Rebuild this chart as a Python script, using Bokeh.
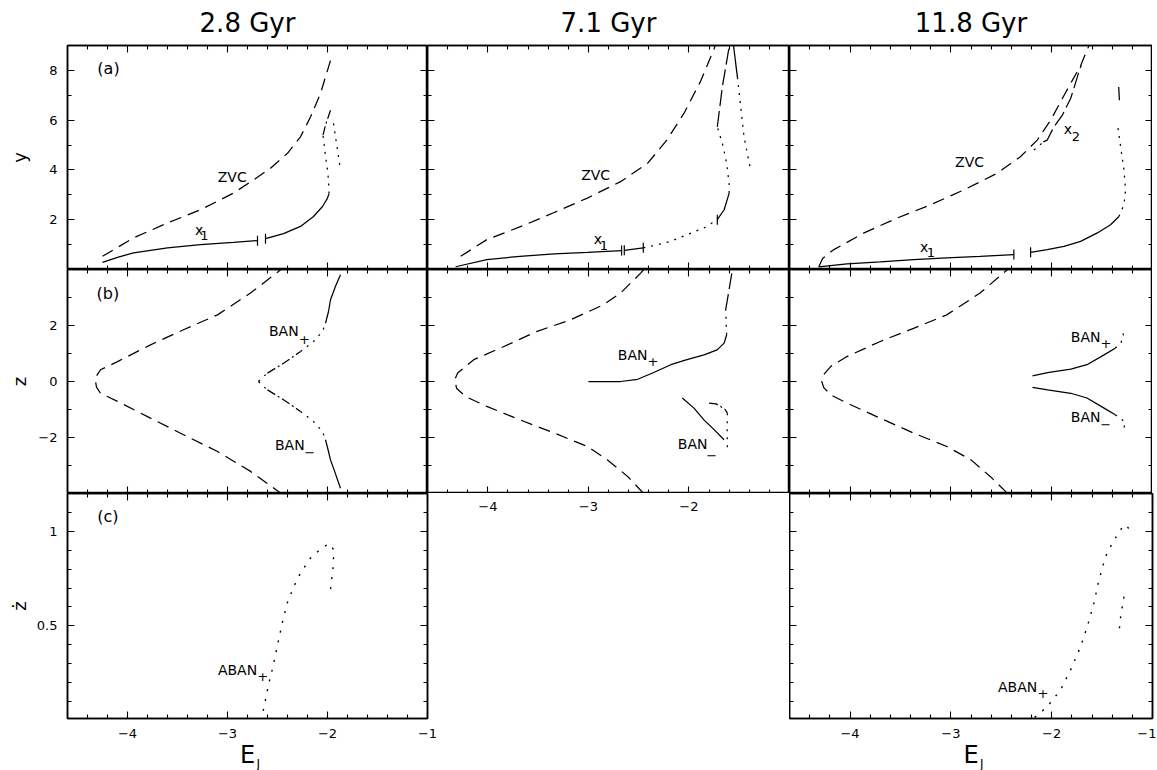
from math import pi
from bokeh.plotting import figure
from bokeh.models import Range1d, LinearAxis, FixedTicker, Title
from bokeh.layouts import row, column
from bokeh.embed import file_html
from bokeh.resources import INLINE
from bokeh.core.properties import value

FONT = "DejaVu Sans"

# ---------------- texts / ticks ----------------
COLUMN_TITLES = ["2.8 Gyr", "7.1 Gyr", "11.8 Gyr"]
ROW_LABELS = ["y", "z", "ż"]
X_LABEL, X_LABEL_SUB = "E", "J"

E_RANGE = (-4.6, -1.0)
E_MAJOR = [-4, -3, -2, -1]
E_MAJOR_LABELS = ["−4", "−3", "−2", "−1"]
E_MINOR = [-4.4, -4.2, -3.8, -3.6, -3.4, -3.2, -2.8, -2.6, -2.4, -2.2, -1.8, -1.6, -1.4, -1.2]

Y_RANGE = (0.0, 9.0)
Y_MAJOR = [2, 4, 6, 8]
Y_MAJOR_LABELS = ["2", "4", "6", "8"]
Y_MINOR = [1, 3, 5, 7]

Z_RANGE = (-4.0, 4.0)
Z_MAJOR = [-2, 0, 2]
Z_MAJOR_LABELS = ["−2", "0", "2"]
Z_MINOR = [-3, -1, 1, 3]

ZD_RANGE = (0.01, 1.2)
ZD_MAJOR = [0.5, 1.0]
ZD_MAJOR_LABELS = ["0.5", "1"]
ZD_MINOR = [0.1, 0.2, 0.3, 0.4, 0.6, 0.7, 0.8, 0.9, 1.1]

# ---------------- data: panel (a), 2.8 Gyr ----------------
A28_ZVC_E = [-4.25, -3.94, -3.60, -3.27, -2.94, -2.74, -2.57, -2.40, -2.27, -2.17, -2.07, -1.97]
A28_ZVC_Y = [0.53, 1.27, 1.87, 2.40, 3.07, 3.60, 4.07, 4.67, 5.33, 6.13, 7.07, 8.40]
A28_X1A_E = [-4.25, -4.10, -3.94, -3.60, -3.27, -2.94, -2.70]
A28_X1A_Y = [0.29, 0.49, 0.67, 0.87, 1.00, 1.09, 1.16]
A28_X1B_E = [-2.62, -2.44, -2.27, -2.14, -2.05, -2.00, -1.985]
A28_X1B_Y = [1.24, 1.44, 1.73, 2.13, 2.53, 2.87, 3.05]
A28_X1C_E = [-1.985, -1.99, -2.00, -2.02, -2.035, -2.045]
A28_X1C_Y = [3.05, 3.60, 4.00, 4.53, 5.07, 5.40]
A28_X1D_E = [-2.045, -2.02, -1.97]
A28_X1D_Y = [5.40, 5.80, 6.40]
A28_X1E_E = [-1.94, -1.905, -1.87]
A28_X1E_Y = [5.87, 4.93, 4.00]
A28_TICK_E = [-2.70, -2.62]
A28_TICK_Y = [1.16, 1.24]

# ---------------- data: panel (a), 7.1 Gyr ----------------
A71_ZVC_E = [-4.27, -4.01, -3.67, -3.34, -3.01, -2.68, -2.41, -2.22, -2.05, -1.88, -1.75, -1.73]
A71_ZVC_Y = [0.53, 1.20, 1.73, 2.29, 2.87, 3.53, 4.27, 5.20, 6.27, 7.60, 8.87, 9.10]
A71_X1A_E = [-4.32, -4.01, -3.68, -3.34, -3.01, -2.67]
A71_X1A_Y = [0.11, 0.40, 0.53, 0.63, 0.69, 0.76]
A71_X1B_E = [-2.643, -2.454]
A71_X1B_Y = [0.77, 0.87]
A71_X1C_E = [-2.454, -2.35, -2.18, -2.02, -1.85, -1.718]
A71_X1C_Y = [0.87, 0.96, 1.13, 1.40, 1.67, 2.00]
A71_X1D_E = [-1.718, -1.65, -1.60]
A71_X1D_Y = [2.00, 2.40, 3.07]
A71_X1E_E = [-1.60, -1.601, -1.625, -1.668, -1.718]
A71_X1E_Y = [3.07, 3.47, 4.27, 5.07, 5.73]
A71_X1F_E = [-1.718, -1.668, -1.601, -1.59]
A71_X1F_Y = [5.73, 7.33, 8.93, 9.20]
A71_X1G_E = [-1.56, -1.518]
A71_X1G_Y = [9.10, 7.73]
A71_X1H_E = [-1.518, -1.485, -1.452, -1.393]
A71_X1H_Y = [7.73, 6.53, 5.33, 4.13]
A71_TICK_E = [-2.670, -2.643, -2.454, -1.718]
A71_TICK_Y = [0.76, 0.77, 0.87, 2.00]

# ---------------- data: panel (a), 11.8 Gyr ----------------
A118_ZVC_E = [-4.31, -4.27, -4.16, -3.86, -3.53, -3.20, -2.87, -2.54, -2.31, -2.143, -2.01, -1.894, -1.795, -1.712, -1.63]
A118_ZVC_Y = [0.11, 0.45, 0.80, 1.47, 2.07, 2.60, 3.20, 3.87, 4.53, 5.20, 6.00, 6.87, 7.60, 8.20, 9.00]
A118_X2A_E = [-2.176, -2.127, -2.083]
A118_X2A_Y = [4.80, 4.96, 5.13]
A118_X2B_E = [-2.083, -2.044, -1.978, -1.894, -1.812, -1.786, -1.72, -1.706]
A118_X2B_Y = [5.13, 5.20, 5.73, 6.20, 6.87, 7.20, 8.07, 8.20]
A118_X1A_E = [-4.31, -4.03, -3.70, -3.37, -3.04, -2.71, -2.375]
A118_X1A_Y = [0.11, 0.23, 0.31, 0.40, 0.47, 0.53, 0.60]
A118_X1B_E = [-2.209, -2.044, -1.878, -1.713, -1.547, -1.416, -1.333]
A118_X1B_Y = [0.69, 0.80, 0.93, 1.13, 1.47, 1.80, 2.13]
A118_X1C_E = [-1.333, -1.283, -1.267, -1.283, -1.316, -1.349]
A118_X1C_Y = [2.13, 2.60, 3.20, 4.00, 4.93, 5.87]
A118_X1D_E = [-1.335, -1.328]
A118_X1D_Y = [7.33, 6.80]
A118_TICK_E = [-2.375, -2.209]
A118_TICK_Y = [0.60, 0.69]

# ---------------- data: panel (b), 2.8 Gyr ----------------
B28_ZVC_E = [-2.45, -2.49, -2.77, -3.10, -3.44, -3.77, -4.10, -4.27, -4.31, -4.32, -4.31, -4.27, -4.10, -3.77, -3.44, -3.10, -2.77, -2.49, -2.45]
B28_ZVC_Z = [-4.05, -3.93, -3.21, -2.50, -1.90, -1.31, -0.71, -0.42, -0.20, 0.00, 0.20, 0.42, 0.71, 1.31, 1.85, 2.38, 3.16, 3.93, 4.05]
B28_UPA_E = [-2.69, -2.66, -2.60]
B28_UPA_Z = [0.00, 0.12, 0.30]
B28_UPB_E = [-2.60, -2.44, -2.27]
B28_UPB_Z = [0.30, 0.65, 1.07]
B28_UPC_E = [-2.27, -2.14, -2.05, -2.02]
B28_UPC_Z = [1.07, 1.43, 1.79, 2.08]
B28_UPD_E = [-2.02, -1.99, -1.97, -1.92, -1.87]
B28_UPD_Z = [2.08, 2.50, 2.92, 3.40, 3.81]
B28_LOA_E = [-2.69, -2.66, -2.60]
B28_LOA_Z = [0.00, -0.12, -0.30]
B28_LOB_E = [-2.60, -2.44, -2.27]
B28_LOB_Z = [-0.30, -0.65, -1.07]
B28_LOC_E = [-2.27, -2.14, -2.05, -2.02]
B28_LOC_Z = [-1.07, -1.43, -1.79, -2.08]
B28_LOD_E = [-2.02, -1.99, -1.97, -1.92, -1.87]
B28_LOD_Z = [-2.08, -2.50, -2.80, -3.30, -3.81]

# ---------------- data: panel (b), 7.1 Gyr ----------------
B71_ZVC_E = [-2.45, -2.61, -2.81, -3.01, -3.34, -3.68, -4.01, -4.22, -4.31, -4.33, -4.30, -4.24, -4.14, -3.84, -3.51, -3.18, -2.85, -2.68, -2.48, -2.45]
B71_ZVC_Z = [-4.00, -3.39, -2.80, -2.32, -1.84, -1.37, -0.89, -0.54, -0.25, 0.06, 0.30, 0.48, 0.78, 1.25, 1.79, 2.20, 2.74, 3.16, 3.87, 4.00]
B71_UPA_E = [-3.00, -2.68, -2.51, -2.35, -2.18, -2.02, -1.85, -1.72, -1.65, -1.625]
B71_UPA_Z = [0.00, 0.00, 0.08, 0.32, 0.60, 0.78, 0.95, 1.13, 1.37, 1.67]
B71_UPB_E = [-1.625, -1.63, -1.635]
B71_UPB_Z = [1.67, 2.10, 2.56]
B71_UPC_E = [-1.635, -1.60, -1.568]
B71_UPC_Z = [2.56, 3.30, 3.99]
B71_LOA_E = [-2.066, -1.95, -1.851, -1.75, -1.651]
B71_LOA_Z = [-0.59, -0.95, -1.37, -1.72, -2.08]
B71_LOB_E = [-1.80, -1.73, -1.685, -1.64, -1.618]
B71_LOB_Z = [-0.77, -0.80, -0.89, -1.00, -1.13]
B71_LOC_E = [-1.618, -1.62, -1.618]
B71_LOC_Z = [-1.13, -1.70, -2.38]

# ---------------- data: panel (b), 11.8 Gyr ----------------
B118_ZVC_E = [-2.44, -2.61, -2.80, -3.04, -3.37, -3.70, -4.03, -4.19, -4.26, -4.28, -4.26, -4.19, -4.03, -3.70, -3.37, -3.04, -2.71, -2.44]
B118_ZVC_Z = [-3.99, -3.39, -2.80, -2.32, -1.84, -1.31, -0.77, -0.48, -0.22, 0.00, 0.25, 0.54, 0.89, 1.43, 1.90, 2.38, 3.16, 3.99]
B118_UPA_E = [-2.19, -2.04, -1.81, -1.65, -1.48, -1.37]
B118_UPA_Z = [0.20, 0.32, 0.44, 0.60, 0.95, 1.19]
B118_UPB_E = [-1.37, -1.316, -1.283, -1.30]
B118_UPB_Z = [1.19, 1.37, 1.61, 1.79]
B118_LOA_E = [-2.19, -2.04, -1.81, -1.65, -1.48, -1.37]
B118_LOA_Z = [-0.21, -0.30, -0.42, -0.59, -0.95, -1.19]
B118_LOB_E = [-1.37, -1.316, -1.267, -1.30]
B118_LOB_Z = [-1.19, -1.31, -1.49, -1.79]

# ---------------- data: panel (c) ----------------
C28_E = [-2.643, -2.62, -2.587, -2.553, -2.503, -2.453, -2.403, -2.337, -2.27, -2.17, -2.07, -1.987, -1.937, -1.943, -1.97]
C28_ZD = [0.051, 0.108, 0.196, 0.267, 0.39, 0.514, 0.62, 0.708, 0.779, 0.858, 0.906, 0.935, 0.903, 0.815, 0.691]
C118A_E = [-2.169, -2.044, -1.912, -1.812, -1.713, -1.647, -1.581, -1.531, -1.465, -1.398, -1.316, -1.267, -1.24, -1.25]
C118A_ZD = [0.016, 0.072, 0.161, 0.267, 0.39, 0.496, 0.62, 0.744, 0.867, 0.938, 1.009, 1.035, 1.018, 1.0]
C118B_E = [-1.283, -1.316, -1.333]
C118B_ZD = [0.655, 0.549, 0.461]

# ---------------- annotations ----------------
A28_TAG = (["(a)"], [-4.19], [8.08])
A28_TXT = (["ZVC", "x"], [-2.953, -3.283], [3.73, 1.57])
A28_SUB = (["1"], [-3.23], [1.36])
A71_TXT = (["ZVC", "x"], [-2.928, -2.905], [3.80, 1.23])
A71_SUB = (["1"], [-2.846], [0.96])
A118_TXT = (["ZVC", "x", "x"], [-2.814, -1.839, -3.264], [4.33, 5.64, 0.91])
A118_SUB = (["2", "1"], [-1.760, -3.198], [5.36, 0.67])
B28_TAG = (["(b)"], [-4.197], [3.16])
B28_TXT = (["BAN", "BAN"], [-2.437, -2.377], [1.79, -2.26])
B28_SUB = (["+", "−"], [-2.23, -2.177], [1.51, -2.54])
B71_TXT = (["BAN", "BAN"], [-2.56, -1.963], [0.95, -2.24])
B71_SUB = (["+", "−"], [-2.358, -1.774], [0.71, -2.65])
B118_TXT = (["BAN", "BAN"], [-1.663, -1.663], [1.58, -1.27])
B118_SUB = (["+", "−"], [-1.462, -1.465], [1.35, -1.55])
C28_TAG = (["(c)"], [-4.197], [1.076])
C28_TXT = (["ABAN"], [-2.90], [0.265])
C28_SUB = (["+"], [-2.647], [0.23])
C118_TXT = (["ABAN"], [-2.338], [0.177])
C118_SUB = (["+"], [-2.087], [0.14])

# ---------------- styling ----------------
FW = [360, 362, 363]
FH = [224, 224, 225]
LEFT_BORDER, TOP_BORDER, BOTTOM_BORDER = 67, 45, 51
DASHES = {"solid": "solid", "dash": "12 7", "dot": "2 6", "dashdot": "9 3 2 3", "longdash": "16 5"}
LW = 1.25


def style_axis(ax, show, labels_map=None, standoff=6):
    ax.axis_line_color = "black"
    ax.axis_line_width = 1.5
    ax.major_tick_line_color = "black"
    ax.major_tick_line_width = 1.1
    ax.minor_tick_line_color = "black"
    ax.minor_tick_line_width = 1.1
    ax.major_tick_in = 7
    ax.major_tick_out = 0
    ax.minor_tick_in = 4
    ax.minor_tick_out = 0
    ax.axis_label_text_color = "black"
    if show:
        ax.major_label_overrides = labels_map
        ax.major_label_text_font = FONT
        ax.major_label_text_font_size = "13px"
        ax.major_label_text_color = "black"
        ax.major_label_standoff = standoff
    else:
        ax.major_label_text_color = None


def make_panel(ci, ri, yrange, ymaj, ymaj_lab, ymin, ylabel=None, ylabel_standoff=0):
    left = LEFT_BORDER if ci == 0 else 0
    top = TOP_BORDER if ri == 0 else 0
    bottom = BOTTOM_BORDER if ri == 2 else 0
    right = 0
    if ri == 2 and ci == 0:
        right = 10
    if ri == 2 and ci == 2:
        right = 4
    p = figure(frame_width=FW[ci], frame_height=FH[ri],
               x_range=Range1d(*E_RANGE), y_range=Range1d(*yrange),
               min_border=0, min_border_left=left, min_border_right=right,
               min_border_top=top, min_border_bottom=bottom,
               x_axis_location=None, y_axis_location=None,
               toolbar_location=None, tools="", output_backend="svg")
    p.outline_line_color = "black"
    p.outline_line_width = 1.5
    p.background_fill_color = "white"
    p.border_fill_color = "white"
    p.xgrid.visible = False
    p.ygrid.visible = False
    for loc in ("below", "above"):
        ax = LinearAxis(ticker=FixedTicker(ticks=E_MAJOR, minor_ticks=E_MINOR))
        show = loc == "below" and ri == 2
        style_axis(ax, show, dict(zip(E_MAJOR, E_MAJOR_LABELS)), 10)
        if show:
            ax.axis_label = X_LABEL
            ax.axis_label_text_font = FONT
            ax.axis_label_text_font_size = "24px"
            ax.axis_label_text_font_style = "normal"
            ax.axis_label_standoff = 0
        p.add_layout(ax, loc)
    for loc in ("left", "right"):
        ax = LinearAxis(ticker=FixedTicker(ticks=ymaj, minor_ticks=ymin))
        show = loc == "left" and ci == 0
        style_axis(ax, show, dict(zip(ymaj, ymaj_lab)), 10)
        if show and ylabel:
            ax.axis_label = ylabel
            ax.axis_label_text_font = FONT
            ax.axis_label_text_font_size = "18px"
            ax.axis_label_text_font_style = "normal"
            ax.axis_label_standoff = ylabel_standoff
        p.add_layout(ax, loc)
    if ri == 0:
        p.title.text = COLUMN_TITLES[ci]
        p.title.align = "center"
        p.title.text_font = FONT
        p.title.text_font_size = "26px"
        p.title.text_font_style = "normal"
        p.title.text_color = "black"
        p.title.standoff = 12
        p.title.vertical_align = "top"
    if ri == 2:
        sub = Title(text=X_LABEL_SUB, align="left", offset=FW[ci] / 2 + 9,
                    text_font=FONT, text_font_size="12px", text_font_style="normal",
                    text_color="black", standoff=-30, vertical_align="top")
        p.add_layout(sub, "below")
    return p


def seg(p, xs, ys, style):
    p.line(xs, ys, line_color="black", line_width=LW, line_dash=DASHES[style])


def ticks(p, xs, ys):
    p.scatter(xs, ys, marker="dash", angle=pi / 2, size=10, line_color="black", line_width=1.2)


def texts(p, main, sub, tag=None):
    t, x, y = main
    p.text(x=x, y=y, text=t, text_font=value(FONT), text_font_size="14px",
           text_align="center", text_baseline="middle", text_color="black")
    t, x, y = sub
    p.text(x=x, y=y, text=t, text_font=value(FONT), text_font_size="13px",
           text_align="center", text_baseline="middle", text_color="black")
    if tag is not None:
        t, x, y = tag
        p.text(x=x, y=y, text=t, text_font=value(FONT), text_font_size="16px",
               text_align="center", text_baseline="middle", text_color="black")


# ---- row 1: panel (a)
tl = make_panel(0, 0, Y_RANGE, Y_MAJOR, Y_MAJOR_LABELS, Y_MINOR, ROW_LABELS[0], 16)
seg(tl, A28_ZVC_E, A28_ZVC_Y, "dash")
seg(tl, A28_X1A_E, A28_X1A_Y, "solid")
seg(tl, A28_X1B_E, A28_X1B_Y, "solid")
seg(tl, A28_X1C_E, A28_X1C_Y, "dot")
seg(tl, A28_X1D_E, A28_X1D_Y, "dashdot")
seg(tl, A28_X1E_E, A28_X1E_Y, "dot")
ticks(tl, A28_TICK_E, A28_TICK_Y)
texts(tl, A28_TXT, A28_SUB, A28_TAG)

tm = make_panel(1, 0, Y_RANGE, Y_MAJOR, Y_MAJOR_LABELS, Y_MINOR)
seg(tm, A71_ZVC_E, A71_ZVC_Y, "dash")
seg(tm, A71_X1A_E, A71_X1A_Y, "solid")
seg(tm, A71_X1B_E, A71_X1B_Y, "solid")
seg(tm, A71_X1C_E, A71_X1C_Y, "dot")
seg(tm, A71_X1D_E, A71_X1D_Y, "solid")
seg(tm, A71_X1E_E, A71_X1E_Y, "dot")
seg(tm, A71_X1F_E, A71_X1F_Y, "longdash")
seg(tm, A71_X1G_E, A71_X1G_Y, "solid")
seg(tm, A71_X1H_E, A71_X1H_Y, "dot")
ticks(tm, A71_TICK_E, A71_TICK_Y)
texts(tm, A71_TXT, A71_SUB)

tr = make_panel(2, 0, Y_RANGE, Y_MAJOR, Y_MAJOR_LABELS, Y_MINOR)
seg(tr, A118_ZVC_E, A118_ZVC_Y, "dash")
seg(tr, A118_X2A_E, A118_X2A_Y, "dot")
seg(tr, A118_X2B_E, A118_X2B_Y, "longdash")
seg(tr, A118_X1A_E, A118_X1A_Y, "solid")
seg(tr, A118_X1B_E, A118_X1B_Y, "solid")
seg(tr, A118_X1C_E, A118_X1C_Y, "dot")
seg(tr, A118_X1D_E, A118_X1D_Y, "solid")
ticks(tr, A118_TICK_E, A118_TICK_Y)
texts(tr, A118_TXT, A118_SUB)

# ---- row 2: panel (b)
ml = make_panel(0, 1, Z_RANGE, Z_MAJOR, Z_MAJOR_LABELS, Z_MINOR, ROW_LABELS[1], 5)
seg(ml, B28_ZVC_E, B28_ZVC_Z, "dash")
for xs, ys, st in [(B28_UPA_E, B28_UPA_Z, "dot"), (B28_UPB_E, B28_UPB_Z, "dashdot"),
                   (B28_UPC_E, B28_UPC_Z, "dot"), (B28_UPD_E, B28_UPD_Z, "solid"),
                   (B28_LOA_E, B28_LOA_Z, "dot"), (B28_LOB_E, B28_LOB_Z, "dashdot"),
                   (B28_LOC_E, B28_LOC_Z, "dot"), (B28_LOD_E, B28_LOD_Z, "solid")]:
    seg(ml, xs, ys, st)
texts(ml, B28_TXT, B28_SUB, B28_TAG)

mm = make_panel(1, 1, Z_RANGE, Z_MAJOR, Z_MAJOR_LABELS, Z_MINOR)
seg(mm, B71_ZVC_E, B71_ZVC_Z, "dash")
for xs, ys, st in [(B71_UPA_E, B71_UPA_Z, "solid"), (B71_UPB_E, B71_UPB_Z, "dot"),
                   (B71_UPC_E, B71_UPC_Z, "longdash"), (B71_LOA_E, B71_LOA_Z, "solid"),
                   (B71_LOB_E, B71_LOB_Z, "dashdot"), (B71_LOC_E, B71_LOC_Z, "dot")]:
    seg(mm, xs, ys, st)
texts(mm, B71_TXT, B71_SUB)

mr = make_panel(2, 1, Z_RANGE, Z_MAJOR, Z_MAJOR_LABELS, Z_MINOR)
seg(mr, B118_ZVC_E, B118_ZVC_Z, "dash")
for xs, ys, st in [(B118_UPA_E, B118_UPA_Z, "solid"), (B118_UPB_E, B118_UPB_Z, "dot"),
                   (B118_LOA_E, B118_LOA_Z, "solid"), (B118_LOB_E, B118_LOB_Z, "dot")]:
    seg(mr, xs, ys, st)
texts(mr, B118_TXT, B118_SUB)

# ---- row 3: panel (c)
bl = make_panel(0, 2, ZD_RANGE, ZD_MAJOR, ZD_MAJOR_LABELS, ZD_MINOR, ROW_LABELS[2], 4)
bl.line(C28_E, C28_ZD, line_color="black", line_width=1.4, line_dash="2 8")
texts(bl, C28_TXT, C28_SUB, C28_TAG)

br = make_panel(2, 2, ZD_RANGE, ZD_MAJOR, ZD_MAJOR_LABELS, ZD_MINOR)
br.line(C118A_E, C118A_ZD, line_color="black", line_width=1.4, line_dash="2 8")
br.line(C118B_E, C118B_ZD, line_color="black", line_width=1.4, line_dash="2 8")
texts(br, C118_TXT, C118_SUB)

# bottom-middle: empty slot that carries the E tick labels of the middle (b) panel
bm_shift = 10
bm = figure(frame_width=FW[1] - bm_shift, frame_height=FH[2],
            x_range=Range1d(E_RANGE[0] + bm_shift * (E_RANGE[1] - E_RANGE[0]) / FW[1], E_RANGE[1]),
            y_range=Range1d(0, 1), min_border=0, min_border_bottom=BOTTOM_BORDER,
            x_axis_location=None, y_axis_location=None,
            toolbar_location=None, tools="", output_backend="svg")
bm.outline_line_color = None
bm.xgrid.visible = False
bm.ygrid.visible = False
bm.border_fill_color = "white"
bm.text(x=E_MAJOR[:3], y=[1, 1, 1], text=E_MAJOR_LABELS[:3], text_font=value(FONT),
        text_font_size="13px", text_align="center", text_baseline="top", y_offset=8,
        text_color="black")

layout = column(row(tl, tm, tr), row(ml, mm, mr), row(bl, bm, br))

with open("out.html", "w") as f:
    f.write(file_html(layout, INLINE))
